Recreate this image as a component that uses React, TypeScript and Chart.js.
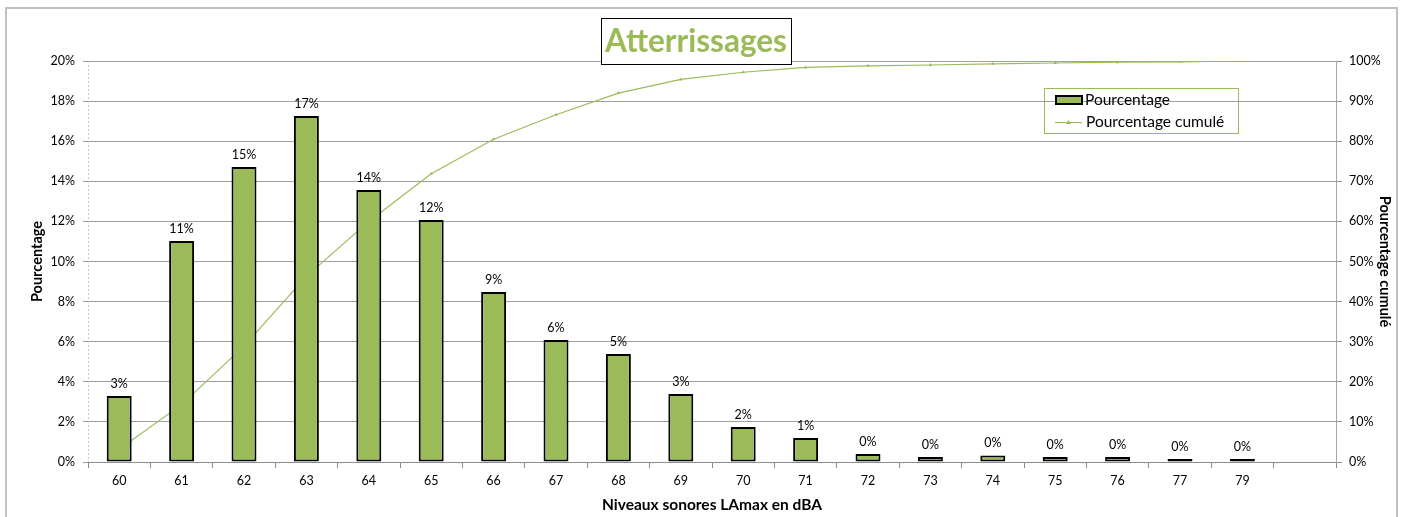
import React, { useEffect, useRef } from "react";
import { Chart, registerables } from "chart.js";

Chart.register(...registerables);

const categories = ["60", "61", "62", "63", "64", "65", "66", "67", "68", "69", "70", "71", "72", "73", "74", "75", "76", "77", "79", ""];
const percentages = [3.29, 11.02, 14.71, 17.26, 13.57, 12.07, 8.48, 6.08, 5.39, 3.39, 1.75, 1.2, 0.4, 0.25, 0.33, 0.25, 0.25, 0.1, 0.1];
const cumulative = [3.2, 14.3, 28.9, 46.3, 60.0, 71.9, 80.5, 86.6, 92.0, 95.4, 97.2, 98.4, 98.8, 99.0, 99.3, 99.5, 99.7, 99.8, 100];
const barLabels = ["3%", "11%", "15%", "17%", "14%", "12%", "9%", "6%", "5%", "3%", "2%", "1%", "0%", "0%", "0%", "0%", "0%", "0%", "0%"];
const leftTicks = [0, 2, 4, 6, 8, 10, 12, 14, 16, 18, 20];
const rightTicks = [0, 10, 20, 30, 40, 50, 60, 70, 80, 90, 100];

const titleText = "Atterrissages";
const barName = "Pourcentage";
const lineName = "Pourcentage cumulé";
const xTitle = "Niveaux sonores LAmax en dBA";

const GREEN = "#9BBB59";
const FONT = "Lato";

export default function App() {
  const ref = useRef<HTMLCanvasElement | null>(null);

  useEffect(() => {
    const canvas = ref.current;
    if (!canvas) return;

    const overlay = {
      id: "overlay",
      beforeDatasetsDraw(chart: any) {
        const ctx = chart.ctx;
        const a = chart.chartArea;
        ctx.save();
        ctx.strokeStyle = "#c8c8c8";
        ctx.lineWidth = 1;
        ctx.setLineDash([2, 2]);
        ctx.beginPath();
        ctx.moveTo(Math.round(a.left) + 0.5, a.top);
        ctx.lineTo(Math.round(a.left) + 0.5, a.bottom);
        ctx.stroke();
        ctx.restore();
      },
      afterDatasetsDraw(chart: any) {
        const ctx = chart.ctx;
        const meta = chart.getDatasetMeta(0);
        ctx.save();
        ctx.font = `12.5px ${FONT}`;
        ctx.fillStyle = "#000";
        ctx.textAlign = "center";
        ctx.textBaseline = "bottom";
        meta.data.forEach((bar: any, i: number) => {
          ctx.fillText(barLabels[i], bar.x, bar.y - 6);
        });
        ctx.restore();
      },
      afterDraw(chart: any) {
        const ctx = chart.ctx;
        ctx.save();
        // Title box
        ctx.fillStyle = "#fff";
        ctx.fillRect(601.5, 18.5, 190, 46);
        ctx.strokeStyle = "#000";
        ctx.lineWidth = 1;
        ctx.strokeRect(601.5, 18.5, 190, 46);
        ctx.font = `bold 31.5px ${FONT}`;
        ctx.fillStyle = GREEN;
        ctx.textAlign = "center";
        ctx.textBaseline = "middle";
        ctx.fillText(titleText, 696, 42);

        // Legend
        ctx.strokeStyle = GREEN;
        ctx.lineWidth = 1;
        ctx.strokeRect(1044.5, 88.5, 194, 45);
        ctx.fillStyle = GREEN;
        ctx.fillRect(1056, 96, 26, 8);
        ctx.strokeStyle = "#000";
        ctx.lineWidth = 2;
        ctx.strokeRect(1056, 96, 26, 8);
        ctx.strokeStyle = GREEN;
        ctx.lineWidth = 1;
        ctx.beginPath();
        ctx.moveTo(1055, 122.5);
        ctx.lineTo(1082, 122.5);
        ctx.stroke();
        ctx.fillStyle = GREEN;
        ctx.beginPath();
        ctx.moveTo(1068.5, 120);
        ctx.lineTo(1071, 124);
        ctx.lineTo(1066, 124);
        ctx.closePath();
        ctx.fill();
        ctx.font = `15.5px ${FONT}`;
        ctx.fillStyle = "#000";
        ctx.textAlign = "left";
        ctx.textBaseline = "middle";
        ctx.fillText(barName, 1085, 100);
        ctx.fillText(lineName, 1086, 122);
        ctx.restore();
      },
    };

    const chart = new Chart(canvas, {
      type: "bar",
      data: {
        labels: categories,
        datasets: [
          {
            type: "bar",
            label: barName,
            data: percentages,
            backgroundColor: GREEN,
            borderColor: "#000",
            borderWidth: 2,
            borderSkipped: false,
            barPercentage: 0.4,
            categoryPercentage: 1,
            minBarLength: 3,
            yAxisID: "y",
            order: 1,
          },
          {
            type: "line",
            label: lineName,
            data: cumulative,
            borderColor: GREEN,
            backgroundColor: GREEN,
            borderWidth: 1.2,
            pointStyle: "triangle",
            pointRadius: 2,
            pointBorderWidth: 0,
            tension: 0,
            yAxisID: "y1",
            order: 2,
          },
        ],
      },
      options: {
        animation: false,
        responsive: false,
        maintainAspectRatio: false,
        devicePixelRatio: 1,
        layout: { padding: { left: 0, right: 0, top: 61, bottom: 0 } },
        plugins: {
          legend: { display: false },
          tooltip: { enabled: false },
          title: { display: false },
        },
        scales: {
          x: {
            offset: true,
            grid: {
              offset: true,
              drawOnChartArea: false,
              drawTicks: true,
              tickLength: 6,
              color: "#8c8c8c",
            },
            border: { display: true, color: "#8c8c8c" },
            ticks: {
              color: "#000",
              font: { family: FONT, size: 12.5 },
              padding: 5,
              maxRotation: 0,
              autoSkip: false,
            },
            title: {
              display: true,
              text: xTitle,
              color: "#000",
              font: { family: FONT, size: 15.5, weight: "bold" },
              padding: { top: 0, bottom: 3 },
            },
            afterFit(scale: any) {
              scale.height = 55;
            },
          },
          y: {
            position: "left",
            min: 0,
            max: 20,
            afterBuildTicks(scale: any) {
              scale.ticks = leftTicks.map((v) => ({ value: v }));
            },
            grid: {
              color: "#a0a0a0",
              tickLength: 5,
              drawTicks: true,
            },
            border: { display: false },
            ticks: {
              color: "#000",
              font: { family: FONT, size: 12.5 },
              padding: 8,
              callback: (v: any) => `${v}%`,
            },
            title: {
              display: true,
              text: barName,
              color: "#000",
              font: { family: FONT, size: 14.5, weight: "bold" },
              padding: { top: 28.3, bottom: 0 },
            },
            afterFit(scale: any) {
              scale.width = 88;
            },
          },
          y1: {
            position: "right",
            min: 0,
            max: 100,
            afterBuildTicks(scale: any) {
              scale.ticks = rightTicks.map((v) => ({ value: v }));
            },
            grid: {
              drawOnChartArea: false,
              color: "#8c8c8c",
              tickLength: 6,
              drawTicks: true,
            },
            border: { display: true, color: "#a6a6a6" },
            ticks: {
              color: "#000",
              font: { family: FONT, size: 12.5 },
              padding: 7,
              callback: (v: any) => `${v}%`,
            },
            title: {
              display: true,
              text: lineName,
              color: "#000",
              font: { family: FONT, size: 14.5, weight: "bold" },
              padding: { top: 9.3, bottom: 0 },
            },
            afterFit(scale: any) {
              scale.width = 67;
            },
          },
        },
      },
      plugins: [overlay],
    });

    return () => chart.destroy();
  }, []);

  return (
    <>
      <div
        style={{
          position: "fixed",
          left: 5,
          top: 7,
          width: 1393,
          height: 540,
          boxSizing: "border-box",
          border: "2px solid #c0c0c0",
          background: "#fff",
        }}
      />
      <canvas
        ref={ref}
        width={1403}
        height={517}
        style={{ position: "fixed", left: 0, top: 0, width: 1403, height: 517 }}
      />
    </>
  );
}
